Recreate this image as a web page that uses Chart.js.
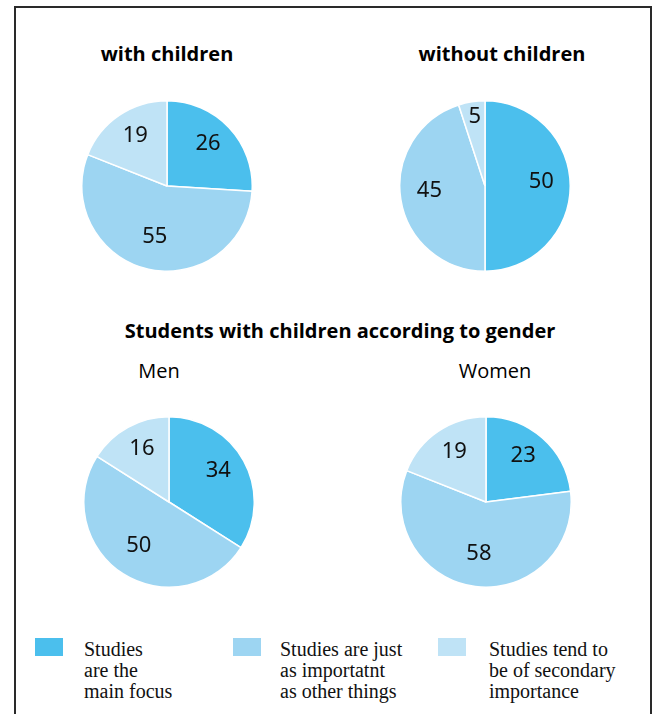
<!DOCTYPE html>
<html>
<head>
<meta charset="utf-8">
<script src="https://cdn.jsdelivr.net/npm/chart.js@4/dist/chart.umd.min.js"></script>
<style>
  html, body { margin:0; padding:0; background:#fff; }
  body { width:656px; height:714px; position:relative; overflow:hidden; }
  .frame { position:absolute; left:14px; top:6px; width:638px; height:760px; border:2px solid #2a2a2a; box-sizing:border-box; }
  .pie { position:absolute; width:172px; height:172px; }
  .t { position:absolute; font-family:"Open Sans", sans-serif; color:#000; white-space:nowrap; transform:translate(-50%,-50%); }
  .b { font-weight:700; font-size:20px; }
  .r { font-weight:400; font-size:20px; }
  .sw { position:absolute; width:28px; height:18px; }
  .lt { position:absolute; font-family:"Liberation Serif", serif; font-size:20px; line-height:21px; color:#111; }
</style>
</head>
<body>
<div class="frame"></div>

<div class="t b" style="left:167px; top:53px;">with children</div>
<div class="t b" style="left:502px; top:53px;">without children</div>
<div class="t b" style="left:340px; top:330px;">Students with children according to gender</div>
<div class="t r" style="left:159px; top:370px;">Men</div>
<div class="t r" style="left:495px; top:370px;">Women</div>

<canvas id="p1" class="pie" style="left:81px; top:100px;"></canvas>
<canvas id="p2" class="pie" style="left:399px; top:100px;"></canvas>
<canvas id="p3" class="pie" style="left:83px; top:416px;"></canvas>
<canvas id="p4" class="pie" style="left:400px; top:416px;"></canvas>

<div id="legend"></div>

<script>
// Categories (legend entries)
const categories = [
  "Studies\nare the\nmain focus",
  "Studies are just\nas importatnt\nas other things",
  "Studies tend to\nbe of secondary\nimportance"
];
// Series values (percent)
const withChildren    = [26, 55, 19];
const withoutChildren = [50, 45, 5];
const men             = [34, 50, 16];
const women           = [23, 58, 19];

const colors = ["#4bbfed", "#9dd5f2", "#bfe3f6"];

const valueLabels = {
  id: "valueLabels",
  afterDatasetsDraw(chart) {
    const ctx = chart.ctx;
    const meta = chart.getDatasetMeta(0);
    const data = chart.data.datasets[0].data;
    ctx.save();
    ctx.font = "22px 'Noto Sans', sans-serif";
    ctx.fillStyle = "#111";
    ctx.textAlign = "center";
    ctx.textBaseline = "middle";
    meta.data.forEach((arc, i) => {
      const p = arc.getProps(["x","y","startAngle","endAngle","outerRadius"], true);
      const mid = (p.startAngle + p.endAngle) / 2;
      const frac = data[i] <= 6 ? 0.77 : 0.66;
      const r = p.outerRadius * frac;
      ctx.fillText(String(data[i]), p.x + Math.cos(mid) * r, p.y + Math.sin(mid) * r - 4);
    });
    ctx.restore();
  }
};

function makePie(id, values) {
  new Chart(document.getElementById(id), {
    type: "pie",
    data: {
      labels: categories,
      datasets: [{
        data: values,
        backgroundColor: colors,
        borderColor: "#ffffff",
        borderWidth: 1.5,
        hoverOffset: 0
      }]
    },
    options: {
      responsive: false,
      animation: false,
      events: [],
      layout: { padding: 0 },
      plugins: { legend: { display: false }, tooltip: { enabled: false } }
    },
    plugins: [valueLabels]
  });
}
makePie("p1", withChildren);
makePie("p2", withoutChildren);
makePie("p3", men);
makePie("p4", women);

// legend
const swX = [35, 233, 438];
const txX = [84, 280, 489];
const lg = document.getElementById("legend");
categories.forEach((c, i) => {
  const s = document.createElement("div");
  s.className = "sw";
  s.style.left = swX[i] + "px"; s.style.top = "638px";
  s.style.background = colors[i];
  lg.appendChild(s);
  const t = document.createElement("div");
  t.className = "lt";
  t.style.left = txX[i] + "px"; t.style.top = "639px";
  t.innerHTML = c.split("\n").join("<br>");
  lg.appendChild(t);
});
</script>
</body>
</html>
